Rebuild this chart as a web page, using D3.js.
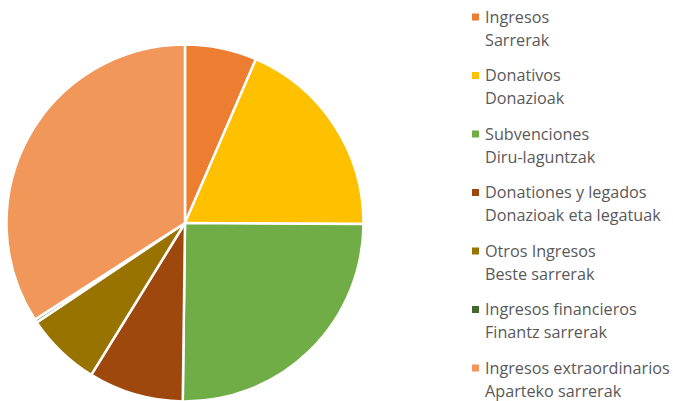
<!DOCTYPE html>
<html>
<head>
<meta charset="utf-8">
<script src="https://cdn.jsdelivr.net/npm/d3@7"></script>
<style>
  body { margin: 0; background: #fff; }
  svg { display: block; }
</style>
</head>
<body>
<div id="chart"></div>
<script>
// categories (two lines each: Spanish / Basque)
const labelsEs = ["Ingresos", "Donativos", "Subvenciones", "Donationes y legados", "Otros Ingresos", "Ingresos financieros", "Ingresos extraordinarios"];
const labelsEu = ["Sarrerak", "Donazioak", "Diru-laguntzak", "Donazioak eta legatuak", "Beste sarrerak", "Finantz sarrerak", "Aparteko sarrerak"];
// share of total (%)
const values = [6.5, 18.6, 25.1, 8.6, 6.8, 0.3, 34.1];
const colors = ["#ED7D31", "#FFC000", "#70AD47", "#9E480E", "#997300", "#43682B", "#F1975A"];

const width = 673, height = 401;
const cx = 185, cy = 223, radius = 178.5;

const svg = d3.select("#chart").append("svg")
    .attr("width", width)
    .attr("height", height);

const pie = d3.pie().sort(null).value(d => d);
const arc = d3.arc().innerRadius(0).outerRadius(radius);

svg.append("g")
    .attr("transform", `translate(${cx},${cy})`)
    .selectAll("path")
    .data(pie(values))
    .enter().append("path")
    .attr("d", arc)
    .attr("fill", (d, i) => colors[i])
    .attr("stroke", "#fff")
    .attr("stroke-width", 2.5)
    .attr("stroke-linejoin", "round");

// legend
const legendY = d3.scalePoint().domain(d3.range(values.length)).range([17, 368]);

const legend = svg.append("g")
    .attr("font-family", "'Open Sans', 'Noto Sans', sans-serif")
    .attr("font-size", 16.2)
    .attr("fill", "#595959")
    .selectAll("g")
    .data(values)
    .enter().append("g")
    .attr("transform", (d, i) => `translate(472,${legendY(i)})`);

legend.append("rect")
    .attr("x", 0)
    .attr("y", -3.5)
    .attr("width", 7)
    .attr("height", 7)
    .attr("fill", (d, i) => colors[i]);

legend.append("text")
    .attr("x", 13)
    .attr("y", 5.5)
    .text((d, i) => labelsEs[i]);

legend.append("text")
    .attr("x", 13)
    .attr("y", 28.5)
    .text((d, i) => labelsEu[i]);
</script>
</body>
</html>
